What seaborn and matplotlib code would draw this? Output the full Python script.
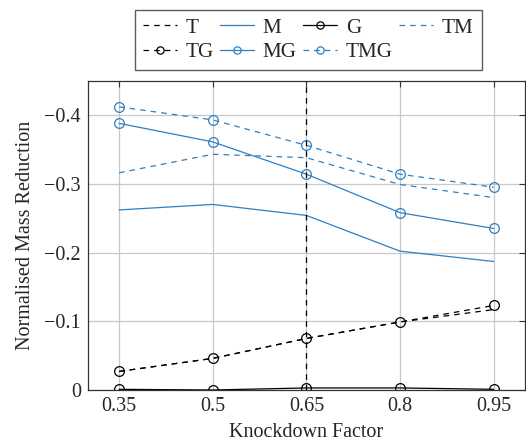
import numpy as np
import pandas as pd
import matplotlib
matplotlib.use("Agg")
import matplotlib.pyplot as plt
import seaborn as sns

# ---- data ----
knockdown = [0.35, 0.5, 0.65, 0.8, 0.95]
T_vals   = [-0.027, -0.046, -0.075, -0.099, -0.117]
M_vals   = [-0.262, -0.270, -0.254, -0.202, -0.187]
G_vals   = [-0.001, 0.000, -0.003, -0.003, -0.001]
TM_vals  = [-0.316, -0.343, -0.338, -0.299, -0.280]
TG_vals  = [-0.027, -0.046, -0.075, -0.099, -0.123]
MG_vals  = [-0.388, -0.361, -0.314, -0.258, -0.235]
TMG_vals = [-0.412, -0.393, -0.356, -0.314, -0.295]
T_vertical_x = 0.65
xticks = [0.35, 0.5, 0.65, 0.8, 0.95]
xtick_labels = ["0.35", "0.5", "0.65", "0.8", "0.95"]
yticks = [0, -0.1, -0.2, -0.3, -0.4]
ytick_labels = ["0", "\u22120.1", "\u22120.2", "\u22120.3", "\u22120.4"]

sns.set_theme(style="white")
plt.rcParams["font.family"] = ["Liberation Serif", "DejaVu Serif"]

BLUE = "#2f7fc1"
BLACK = "black"
DASH = (0, (4.5, 4))
FS = 14.5
LFS = 15.2

series = [
    ("T", T_vals, BLACK, DASH, None),
    ("M", M_vals, BLUE, "-", None),
    ("G", G_vals, BLACK, "-", "o"),
    ("TM", TM_vals, BLUE, DASH, None),
    ("TG", TG_vals, BLACK, DASH, "o"),
    ("MG", MG_vals, BLUE, "-", "o"),
    ("TMG", TMG_vals, BLUE, DASH, "o"),
]

fig = plt.figure(figsize=(5.26, 4.45), dpi=100)
ax = fig.add_axes([0.167, 0.1236, 0.831, 0.695])

handles = {}
for name, vals, color, ls, marker in series:
    df = pd.DataFrame({"x": knockdown, "y": vals})
    kw = dict(color=color, linestyle=ls, linewidth=0.9)
    if marker:
        kw.update(marker=marker, markersize=7, markerfacecolor="none",
                  markeredgecolor=color, markeredgewidth=0.9)
    sns.lineplot(data=df, x="x", y="y", ax=ax, **kw)
    handles[name] = ax.lines[-1]

ax.axvline(T_vertical_x, color=BLACK, linestyle=DASH, linewidth=0.9)

ax.set_xlim(0.3, 1.0)
ax.set_ylim(0, -0.45)
ax.set_xticks(xticks)
ax.set_xticklabels(xtick_labels)
ax.set_yticks(yticks)
ax.set_yticklabels(ytick_labels)
ax.grid(True, color="#c8c8c8", linewidth=0.9)
ax.set_axisbelow(True)
for sp in ax.spines.values():
    sp.set_color("#333333")
    sp.set_linewidth(0.9)
ax.tick_params(direction="in", length=4, width=0.8, color="#333333",
               labelsize=FS, top=True, right=True, pad=5)
ax.set_xlabel("Knockdown Factor", fontsize=FS, labelpad=5)
ax.set_ylabel("Normalised Mass Reduction", fontsize=FS, labelpad=7)

order = ["T", "TG", "M", "MG", "G", "TMG", "TM"]
leg = fig.legend([handles[n] for n in order], order, ncol=4,
                 loc="upper center", bbox_to_anchor=(0.586, 0.978),
                 borderaxespad=0, markerscale=0.75,
                 frameon=True, fancybox=False, fontsize=LFS,
                 handlelength=1.6, columnspacing=0.3, handletextpad=0.42,
                 borderpad=0.38, labelspacing=0.22)
leg.get_frame().set_edgecolor("#333333")
leg.get_frame().set_linewidth(1.0)

fig.savefig("out.png", dpi=100)
